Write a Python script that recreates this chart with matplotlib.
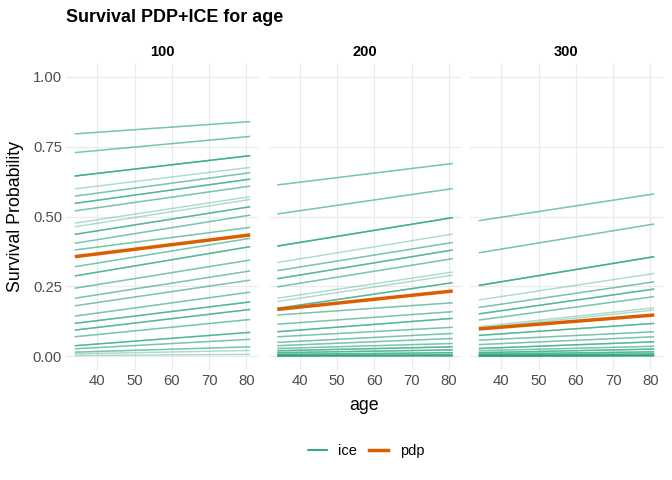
import matplotlib
matplotlib.use("Agg")
import numpy as np
from matplotlib import pyplot as plt
from matplotlib.lines import Line2D

plt.rcParams['font.family'] = ['Liberation Sans', 'DejaVu Sans']

# data
times = ['100', '200', '300']
age_range = [34, 81]

# ICE curves per facet: survival at youngest / oldest age, and how many curves overlap
ice_start_100 = [0.796, 0.729, 0.645, 0.599, 0.573, 0.547, 0.520, 0.476, 0.463, 0.436, 0.404,
                 0.380, 0.320, 0.287, 0.243, 0.207, 0.180, 0.143, 0.117, 0.093, 0.069, 0.037,
                 0.026, 0.014, 0.008, 0.002]
ice_end_100 = [0.840, 0.787, 0.718, 0.676, 0.657, 0.634, 0.609, 0.571, 0.561, 0.535, 0.505,
               0.461, 0.422, 0.392, 0.344, 0.305, 0.272, 0.229, 0.194, 0.167, 0.131, 0.085,
               0.060, 0.033, 0.020, 0.006]
ice_n_100 = [2, 2, 4, 1, 2, 3, 2, 1, 1, 3, 2, 2, 2, 3, 2, 2, 2, 2, 3, 3, 2, 3, 2, 2, 1, 1]

ice_start_200 = [0.613, 0.509, 0.394, 0.335, 0.306, 0.277, 0.248, 0.207, 0.195, 0.171, 0.147,
                 0.114, 0.087, 0.069, 0.049, 0.037, 0.027, 0.019, 0.012, 0.006, 0.002, 0.000]
ice_end_200 = [0.690, 0.600, 0.496, 0.437, 0.407, 0.380, 0.349, 0.301, 0.290, 0.263, 0.191,
               0.159, 0.135, 0.103, 0.081, 0.063, 0.045, 0.033, 0.022, 0.012, 0.005, 0.001]
ice_n_200 = [2, 2, 4, 1, 2, 3, 2, 1, 1, 3, 2, 2, 3, 2, 2, 2, 2, 3, 3, 3, 3, 4]

ice_start_300 = [0.485, 0.370, 0.253, 0.201, 0.174, 0.151, 0.129, 0.105, 0.100, 0.074, 0.057,
                 0.041, 0.027, 0.019, 0.012, 0.007, 0.003, 0.001, 0.000]
ice_end_300 = [0.581, 0.473, 0.356, 0.296, 0.266, 0.240, 0.213, 0.173, 0.165, 0.117, 0.087,
               0.069, 0.051, 0.035, 0.025, 0.015, 0.008, 0.003, 0.001]
ice_n_300 = [2, 2, 4, 1, 2, 3, 2, 1, 1, 3, 2, 2, 3, 2, 3, 3, 3, 3, 4]

pdp_start = [0.356, 0.167, 0.097]
pdp_end = [0.434, 0.233, 0.147]

ice_start = [ice_start_100, ice_start_200, ice_start_300]
ice_end = [ice_end_100, ice_end_200, ice_end_300]
ice_n = [ice_n_100, ice_n_200, ice_n_300]

ICE_COL = '#1b9e77'
PDP_COL = '#d95f02'
GRID_COL = '#ebebeb'

W, H = 672, 480
fig = plt.figure(figsize=(W / 96, H / 96), dpi=96)

panel_left = [66, 268.5, 470]
panel_w = 193
top, bottom = 63, 370

for i, t in enumerate(times):
    ax = fig.add_axes([panel_left[i] / W, 1 - bottom / H, panel_w / W, (bottom - top) / H])
    for s, e, n in zip(ice_start[i], ice_end[i], ice_n[i]):
        for _ in range(n):
            ax.plot(age_range, [s, e], color=ICE_COL, alpha=0.36, lw=1.1, solid_capstyle='butt')
    ax.plot(age_range, [pdp_start[i], pdp_end[i]], color=PDP_COL, lw=2.6, solid_capstyle='butt')

    span = age_range[1] - age_range[0]
    ax.set_xlim(age_range[0] - 0.05 * span, age_range[1] + 0.05 * span)
    ax.set_ylim(-0.05, 1.05)
    ax.set_xticks([40, 50, 60, 70, 80])
    ax.set_yticks([0, 0.25, 0.5, 0.75, 1.0])
    if i == 0:
        ax.set_yticklabels(['0.00', '0.25', '0.50', '0.75', '1.00'])
    else:
        ax.set_yticklabels([])
    ax.tick_params(length=0, labelsize=11.2, labelcolor='#4d4d4d', pad=3)
    ax.grid(True, color=GRID_COL, lw=0.9)
    ax.set_axisbelow(True)
    for sp in ax.spines.values():
        sp.set_visible(False)
    ax.set_title(t, fontsize=11, fontweight='bold', pad=5)

fig.text(66 / W, 1 - 17 / H, 'Survival PDP+ICE for age', fontsize=13.4, fontweight='bold',
         ha='left', va='center')
fig.text(16 / W, 1 - 216 / H, 'Survival Probability', fontsize=13.3, rotation=90,
         ha='center', va='center')
fig.text(364 / W, 1 - 405 / H, 'age', fontsize=13.3, ha='center', va='center')

handles = [Line2D([], [], color=ICE_COL, lw=1.3),
           Line2D([], [], color=PDP_COL, lw=2.6)]
fig.legend(handles, ['ice', 'pdp'], loc='center', bbox_to_anchor=(366 / W, 1 - 451 / H),
           ncol=2, frameon=False, fontsize=11, handlelength=1.3, columnspacing=0.8,
           handletextpad=0.8)

fig.savefig('out.png', dpi=96)
